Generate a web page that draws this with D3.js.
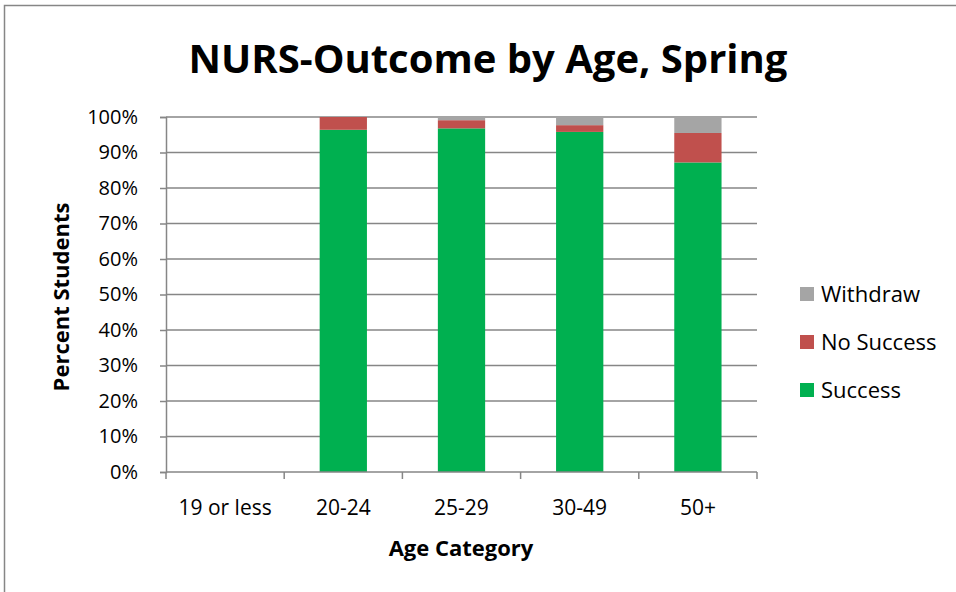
<!DOCTYPE html>
<html>
<head>
<meta charset="utf-8">
<script src="https://cdn.jsdelivr.net/npm/d3@7"></script>
<style>
  body { margin: 0; background: #fff; }
  text { font-family: "Open Sans", Lato, sans-serif; fill: #000; }
</style>
</head>
<body>
<svg width="956" height="592"></svg>
<script>
// chart data
var categories = ["19 or less", "20-24", "25-29", "30-49", "50+"];
var success    = [0, 96.4, 96.8, 95.8, 87.2];
var noSuccess  = [0, 3.6, 2.3, 1.9, 8.3];
var withdraw   = [0, 0, 0.9, 2.3, 4.5];
var seriesNames = ["Success", "No Success", "Withdraw"];
var yTicks = [0, 10, 20, 30, 40, 50, 60, 70, 80, 90, 100];

var colors = {"Success": "#00b050", "No Success": "#c0504d", "Withdraw": "#a5a5a5"};

var svg = d3.select("svg");

// outer chart border
svg.append("rect")
    .attr("x", 4.5).attr("y", 5.5)
    .attr("width", 1000).attr("height", 700)
    .attr("fill", "none").attr("stroke", "#868686").attr("stroke-width", 1.5);

var plotLeft = 166, plotRight = 757, plotTop = 117, plotBottom = 472;

var x = d3.scaleBand().domain(categories).range([plotLeft, plotRight]).paddingInner(0.6).paddingOuter(0.3);
var y = d3.scaleLinear().domain([0, 100]).range([plotBottom, plotTop]);

// gridlines
svg.append("g").selectAll("line")
    .data(yTicks.filter(function(d) { return d > 0; }))
    .enter().append("line")
    .attr("x1", plotLeft).attr("x2", plotRight)
    .attr("y1", function(d) { return y(d); }).attr("y2", function(d) { return y(d); })
    .attr("stroke", "#868686").attr("stroke-width", 1.5);

// stacked data
var table = categories.map(function(c, i) {
    return {cat: c, "Success": success[i], "No Success": noSuccess[i], "Withdraw": withdraw[i]};
});
var stack = d3.stack().keys(seriesNames)(table);

svg.append("g").selectAll("g")
    .data(stack)
    .enter().append("g")
    .attr("fill", function(d) { return colors[d.key]; })
    .selectAll("rect")
    .data(function(d) { return d; })
    .enter().append("rect")
    .attr("x", function(d) { return x(d.data.cat); })
    .attr("width", x.bandwidth())
    .attr("y", function(d) { return y(d[1]); })
    .attr("height", function(d) { return y(d[0]) - y(d[1]); });

// y axis
var yAxis = svg.append("g")
    .attr("transform", "translate(" + plotLeft + ",0)")
    .call(d3.axisLeft(y).tickValues(yTicks).tickSize(6).tickPadding(22)
        .tickFormat(function(d) { return d + "%"; }));
yAxis.select(".domain").attr("stroke", "#868686").attr("stroke-width", 1.5);
yAxis.selectAll(".tick line").attr("stroke", "#868686").attr("stroke-width", 1.5);
yAxis.selectAll(".tick text").attr("font-size", 20).attr("fill", "#000")
    .style("font-family", "'Open Sans', sans-serif");

// x axis
var xStep = (plotRight - plotLeft) / categories.length;
var xAxis = svg.append("g")
    .attr("transform", "translate(0," + plotBottom + ")");
xAxis.append("line")
    .attr("x1", plotLeft).attr("x2", plotRight)
    .attr("stroke", "#868686").attr("stroke-width", 1.5);
xAxis.selectAll("line.tk")
    .data(d3.range(categories.length + 1))
    .enter().append("line")
    .attr("class", "tk")
    .attr("x1", function(i) { return plotLeft + i * xStep; })
    .attr("x2", function(i) { return plotLeft + i * xStep; })
    .attr("y1", 0).attr("y2", 7)
    .attr("stroke", "#868686").attr("stroke-width", 1.5);
xAxis.selectAll("text")
    .data(categories)
    .enter().append("text")
    .attr("x", function(d) { return x(d) + x.bandwidth() / 2; })
    .attr("y", 43)
    .attr("text-anchor", "middle")
    .attr("font-size", 21)
    .text(function(d) { return d; });

// titles
svg.append("text")
    .attr("x", 488).attr("y", 73)
    .attr("text-anchor", "middle")
    .attr("font-size", 40).attr("font-weight", "bold")
    .text("NURS-Outcome by Age, Spring");

svg.append("text")
    .attr("x", 461).attr("y", 556)
    .attr("text-anchor", "middle")
    .attr("font-size", 22).attr("font-weight", "bold")
    .text("Age Category");

svg.append("text")
    .attr("transform", "translate(69,297) rotate(-90)")
    .attr("text-anchor", "middle")
    .attr("font-size", 22).attr("font-weight", "bold")
    .text("Percent Students");

// legend
var legend = svg.append("g").selectAll("g")
    .data(seriesNames.slice().reverse())
    .enter().append("g")
    .attr("transform", function(d, i) { return "translate(800," + (294 + i * 48) + ")"; });
legend.append("rect")
    .attr("x", 0).attr("y", -7).attr("width", 14).attr("height", 14)
    .attr("fill", function(d) { return colors[d]; });
legend.append("text")
    .attr("x", 21).attr("y", 8)
    .attr("font-size", 22)
    .text(function(d) { return d; });
</script>
</body>
</html>
